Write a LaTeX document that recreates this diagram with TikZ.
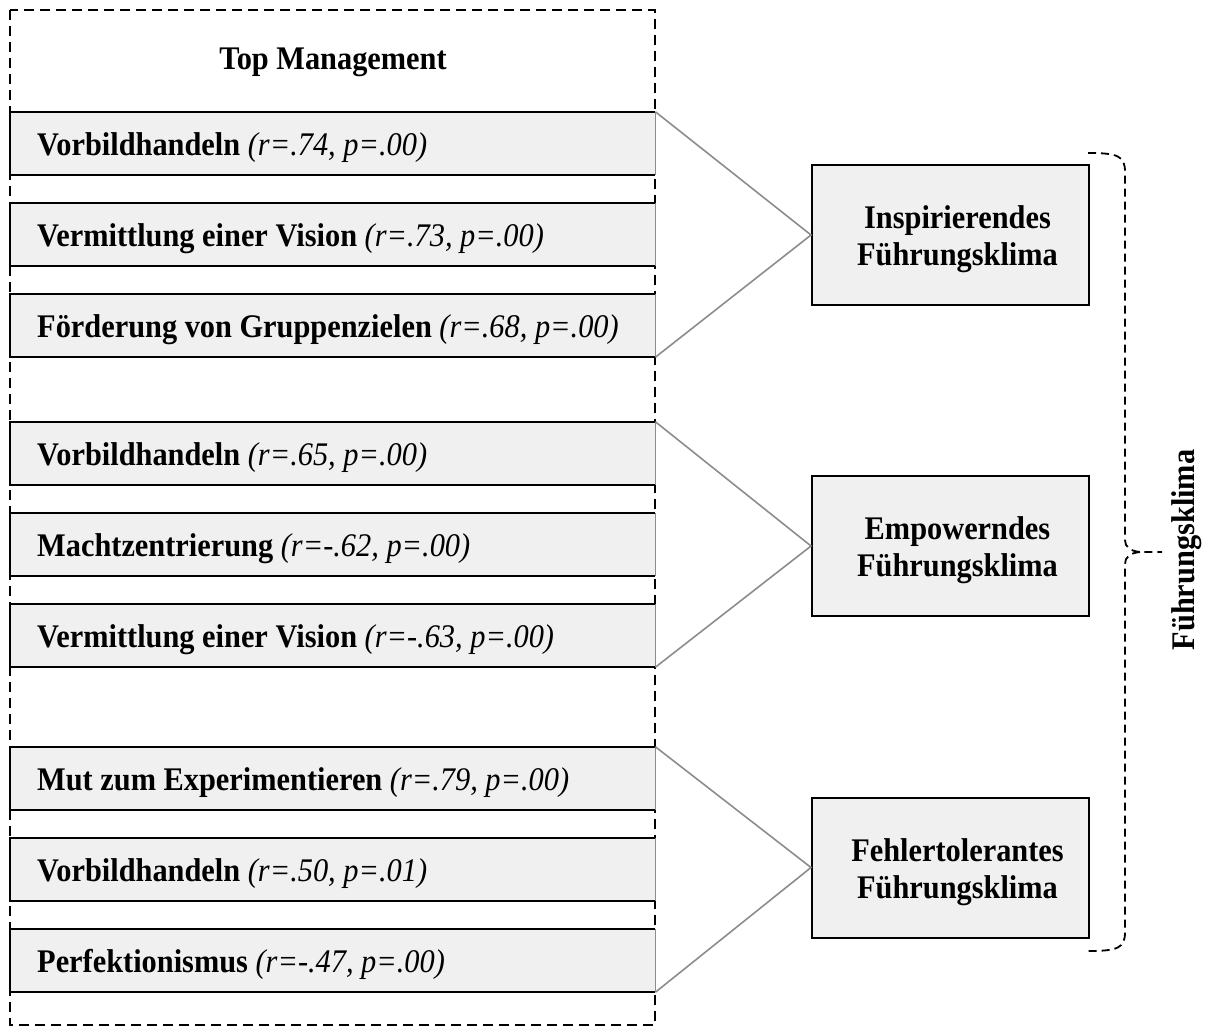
\documentclass[tikz,border=0pt]{standalone}
\usepackage{fontspec}
\setmainfont[FakeStretch=0.92]{Liberation Serif}
\definecolor{boxgray}{HTML}{F0F0F0}
\definecolor{linegray}{HTML}{8C8C8C}
\begin{document}
\begin{tikzpicture}[x=1pt,y=-1pt,
  every node/.style={font=\fontsize{33}{37}\selectfont\bfseries},
  rowbox/.style={fill=boxgray, minimum height=63pt, minimum width=645pt,
    inner sep=0pt, anchor=west},
  rowtext/.style={anchor=base west, inner sep=0pt},
  clima/.style={draw=black, line width=2pt, fill=boxgray, minimum width=277pt,
    minimum height=140pt, inner sep=0pt},
  climatext/.style={align=center, inner sep=0pt},
  conn/.style={draw=linegray, line width=1.6pt},
  frame/.style={draw=black, line width=2pt, dash pattern=on 10pt off 6pt},
  rule/.style={draw=black, line width=2.2pt},
  side/.style={draw=linegray, line width=1.4pt}]
\newcommand{\stat}[1]{{\normalfont\itshape #1}}
% one behaviour row: name, vertical centre, text
\newcommand{\rowitem}[3]{%
  \node[rowbox] (#1) at (10,#2) {};
  \draw[side] (#1.north east) -- (#1.south east);
  \draw[rule] (#1.north east) -- (#1.north west) -- (#1.south west) -- (#1.south east);
  \node[rowtext] (#1t) at ([xshift=27pt,yshift=-11.5pt]#1.west) {#3};
}
% one climate box: name, vertical centre, text
\newcommand{\climaitem}[3]{%
  \node[clima] (#1) at (950.5,#2) {};
  \node[climatext] (#1t) at ([xshift=7pt,yshift=-4.5pt]#1.center) {#3};
}
\useasboundingbox (0,0) rectangle (1205,1028);

% dashed frame of the top management level
\draw[frame] (10,10) rectangle (655,1025);
\node (top) at (333,62) {Top Management};

% leadership behaviours
\rowitem{r1}{143.5}{Vorbildhandeln \stat{(r=.74, p=.00)}}
\rowitem{r2}{234.5}{Vermittlung einer Vision \stat{(r=.73, p=.00)}}
\rowitem{r3}{325.5}{Förderung von Gruppenzielen \stat{(r=.68, p=.00)}}
\rowitem{r4}{453.5}{Vorbildhandeln \stat{(r=.65, p=.00)}}
\rowitem{r5}{544.5}{Machtzentrierung \stat{(r=-.62, p=.00)}}
\rowitem{r6}{635.5}{Vermittlung einer Vision \stat{(r=-.63, p=.00)}}
\rowitem{r7}{778.5}{Mut zum Experimentieren \stat{(r=.79, p=.00)}}
\rowitem{r8}{869.5}{Vorbildhandeln \stat{(r=.50, p=.01)}}
\rowitem{r9}{960.5}{Perfektionismus \stat{(r=-.47, p=.00)}}

% climate dimensions
\climaitem{c1}{235}{Inspirierendes\\Führungsklima}
\climaitem{c2}{546}{Empowerndes\\Führungsklima}
\climaitem{c3}{867.5}{Fehlertolerantes\\Führungsklima}

% correlations
\draw[conn] (r1.north east) -- (c1.west) -- (r3.south east);
\draw[conn] (r4.north east) -- (c2.west) -- (r6.south east);
\draw[conn] (r7.north east) -- (c3.west) -- (r9.south east);

% brace grouping the three climates
\coordinate (btop) at (1088,153);
\coordinate (btip) at (1162,552);
\coordinate (bbot) at (1088,951);
\draw[frame, line width=1.8pt, dash pattern=on 8pt off 5pt]
  (btop) .. controls (1118,153) and (1125,156) .. (1125,172)
  -- (1125,540) .. controls (1125,547) and (1130,551) .. (1140,552) -- (btip);
\draw[frame, line width=1.8pt, dash pattern=on 8pt off 5pt]
  (1140,552) .. controls (1130,553) and (1125,557) .. (1125,564)
  -- (1125,932) .. controls (1125,948) and (1118,951) .. (bbot);
\node[rotate=90] (fk) at (1187,550) {Führungsklima};
\end{tikzpicture}
\end{document}
